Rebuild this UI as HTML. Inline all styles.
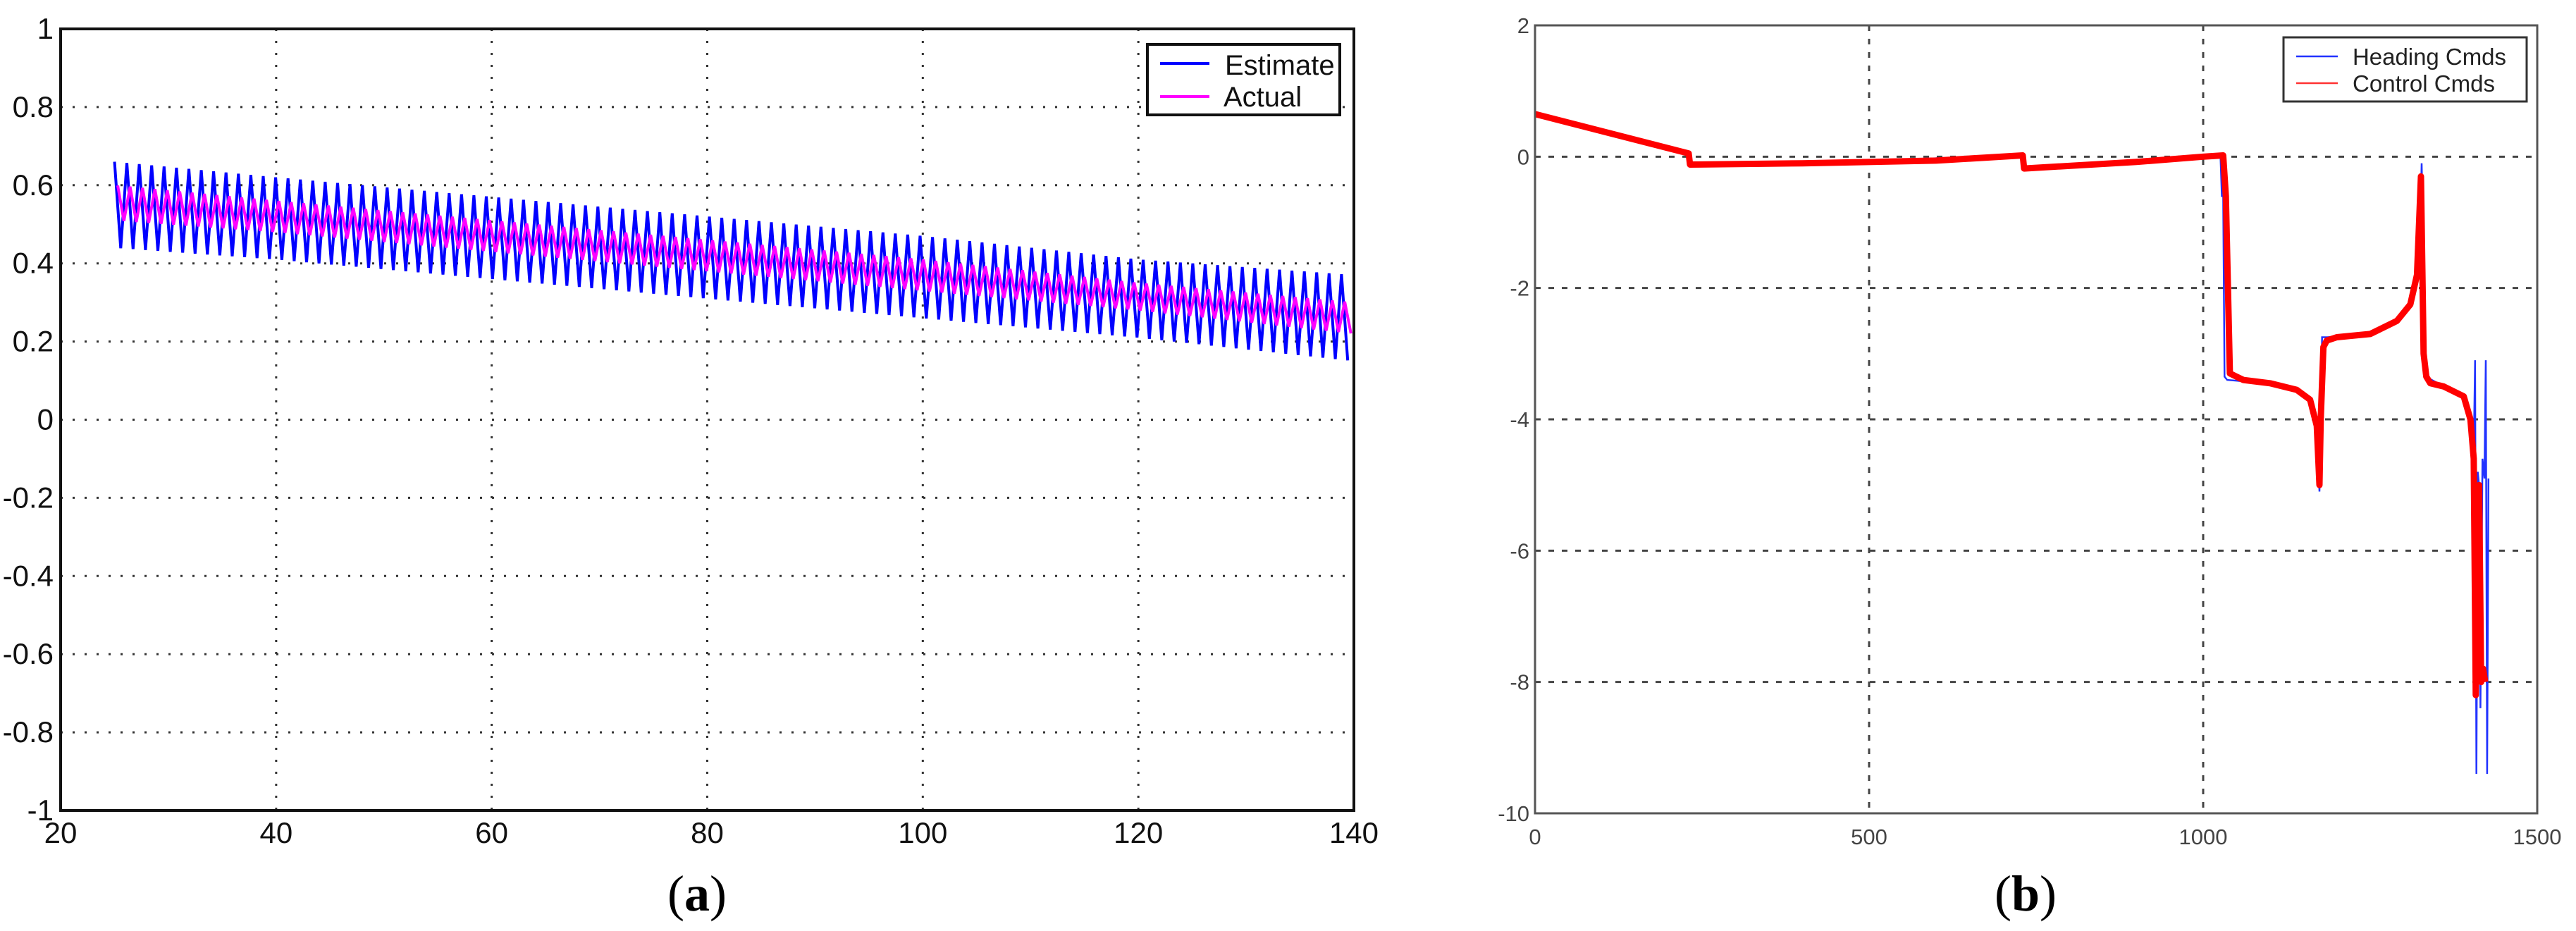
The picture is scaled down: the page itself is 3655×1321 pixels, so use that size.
<!DOCTYPE html>
<html><head><meta charset="utf-8"><style>
body{margin:0;background:#fff}
svg{display:block}
</style></head><body>
<svg id="fig" width="3655" height="1321" viewBox="0 0 3655 1321" xmlns="http://www.w3.org/2000/svg">
<g id="chartA"></g>
<g id="chartB"></g>
<text x="989" y="1292" font-family="Liberation Serif, serif" font-size="72" text-anchor="middle">(<tspan font-weight="bold">a</tspan>)</text>
<text x="2874" y="1292" font-family="Liberation Serif, serif" font-size="72" text-anchor="middle">(<tspan font-weight="bold">b</tspan>)</text>
</svg>
<script>
// ---- Chart A data ----
const aXTicks=[20,40,60,80,100,120,140];
const aYTicks=[1,0.8,0.6,0.4,0.2,0,-0.2,-0.4,-0.6,-0.8,-1];
const aYTickLabels=["1","0.8","0.6","0.4","0.2","0","-0.2","-0.4","-0.6","-0.8","-1"];
const aEnvX=[25,40,60,80,100,120,140];
const aEstUpper=[0.66,0.62,0.57,0.52,0.47,0.41,0.37];
const aEstLower=[0.44,0.41,0.36,0.31,0.26,0.21,0.15];
const aActUpper=[0.60,0.56,0.51,0.46,0.41,0.35,0.30];
const aActLower=[0.51,0.48,0.43,0.38,0.33,0.28,0.22];
const aPeriod=1.15;
// ---- Chart B data ----
const bXTicks=[0,500,1000,1500];
const bYTicks=[2,0,-2,-4,-6,-8,-10];
const bCtrlX=[0,230,232,400,600,730,732,900,1000,1030,1034,1040,1060,1100,1140,1160,1170,1174,1176,1180,1185,1200,1250,1290,1310,1320,1326,1330,1334,1340,1360,1390,1400,1405,1408,1410,1413,1416,1419,1422];
const bCtrlY=[0.65,0.05,-0.12,-0.1,-0.06,0.02,-0.18,-0.08,0,0.02,-0.6,-3.3,-3.4,-3.45,-3.55,-3.7,-4.1,-5.0,-4.0,-2.9,-2.8,-2.75,-2.7,-2.5,-2.25,-1.8,-0.3,-3.0,-3.35,-3.45,-3.5,-3.65,-4.0,-4.6,-8.2,-6.5,-5.0,-8.0,-7.8,-8.0];
const bHeadX=[0,230,232,730,732,1000,1026,1028,1030,1032,1036,1060,1100,1140,1160,1170,1172,1174,1176,1178,1185,1250,1290,1310,1320,1325,1327,1329,1331,1333,1360,1390,1400,1405,1407,1409,1411,1413,1415,1418,1421,1423,1425,1427];
const bHeadY=[0.65,0.05,-0.15,0.02,-0.2,0,0.0,-0.6,-0.6,-3.35,-3.4,-3.42,-3.45,-3.55,-3.7,-4.1,-4.6,-5.1,-4.2,-2.75,-2.75,-2.7,-2.5,-2.25,-1.8,-1.0,-0.1,-1.0,-3.3,-3.35,-3.5,-3.65,-4.0,-4.5,-3.1,-9.4,-4.8,-5.0,-8.4,-4.6,-4.9,-3.1,-9.4,-4.9];

const NS="http://www.w3.org/2000/svg";
function mk(parent,tag,attrs){const e=document.createElementNS(NS,tag);for(const k in attrs)e.setAttribute(k,attrs[k]);parent.appendChild(e);return e;}
function lerp(xs,ys,x){for(let i=0;i<xs.length-1;i++){if(x<=xs[i+1]){const t=(x-xs[i])/(xs[i+1]-xs[i]);return ys[i]+t*(ys[i+1]-ys[i]);}}return ys[ys.length-1];}

// ---- Chart A ----
(function(){
const g=document.getElementById('chartA');
const L=86,R=1921,T=41,B=1150;
const xs=v=>L+(v-20)/120*(R-L);
const ys=v=>T+(1-v)/2*(B-T);
aXTicks.forEach((v,i)=>{
  if(i>0&&i<aXTicks.length-1){const l=mk(g,'line',{x1:xs(v),x2:xs(v),y1:T,y2:B,stroke:'#333','stroke-width':3,'stroke-dasharray':'3 14'});
  
  }
  const t=mk(g,'text',{x:xs(v),y:1196,'font-family':'Liberation Sans, sans-serif','font-size':42,'text-anchor':'middle',fill:'#111'});t.textContent=v;
  
  
});
aYTicks.forEach((v,i)=>{
  if(i>0&&i<aYTicks.length-1){const l=mk(g,'line',{x1:L,x2:R,y1:ys(v),y2:ys(v),stroke:'#333','stroke-width':3,'stroke-dasharray':'3 14'});
  
  }
  const t=mk(g,'text',{x:76,y:ys(v)+14,'font-family':'Liberation Sans, sans-serif','font-size':42,'text-anchor':'end',fill:'#111'});t.textContent=aYTickLabels[i];
  
  
});
let d='';let k=0;
for(let x=25;x<=140;x+=aPeriod/2,k++){const v=(k%2==0)?lerp(aEnvX,aEstUpper,x):lerp(aEnvX,aEstLower,x);d+=(k?'L':'M')+xs(x).toFixed(1)+','+ys(v).toFixed(1);}
const pe=mk(g,'path',{d:d,fill:'none',stroke:'#0000ff','stroke-width':4});


d='';k=0;
for(let x=25.3;x<=140;x+=aPeriod/2,k++){const v=(k%2==0)?lerp(aEnvX,aActUpper,x):lerp(aEnvX,aActLower,x);d+=(k?'L':'M')+xs(x).toFixed(1)+','+ys(v).toFixed(1);}
const pa=mk(g,'path',{d:d,fill:'none',stroke:'#ff00ff','stroke-width':4});


const fr=mk(g,'rect',{x:L,y:T,width:R-L,height:B-T,fill:'none',stroke:'#111','stroke-width':4});


const lg=mk(g,'g',{});


mk(lg,'rect',{x:1628,y:63,width:273,height:100,fill:'#fff',stroke:'#111','stroke-width':4});
mk(lg,'line',{x1:1646,x2:1716,y1:90,y2:90,stroke:'#0000ff','stroke-width':4});
mk(lg,'line',{x1:1646,x2:1716,y1:137,y2:137,stroke:'#ff00ff','stroke-width':4});
const t1=mk(lg,'text',{x:1738,y:106,'font-family':'Liberation Sans, sans-serif','font-size':40,fill:'#111'});t1.textContent='Estimate';
const t2=mk(lg,'text',{x:1736,y:151,'font-family':'Liberation Sans, sans-serif','font-size':40,fill:'#111'});t2.textContent='Actual';
})();

// ---- Chart B ----
(function(){
const g=document.getElementById('chartB');
const L=2178,R=3600,T=36,B=1154;
const xs=v=>L+v/1500*(R-L);
const ys=v=>T+(2-v)/12*(B-T);
bXTicks.forEach((v,i)=>{
  if(i>0&&i<bXTicks.length-1){const l=mk(g,'line',{x1:xs(v),x2:xs(v),y1:T,y2:B,stroke:'#444','stroke-width':3,'stroke-dasharray':'8 11'});
  
  }
  const t=mk(g,'text',{x:xs(v),y:1198,'font-family':'Liberation Sans, sans-serif','font-size':31,'text-anchor':'middle',fill:'#444'});t.textContent=v;
  
  
});
bYTicks.forEach((v,i)=>{
  if(i>0&&i<bYTicks.length-1){const l=mk(g,'line',{x1:L,x2:R,y1:ys(v),y2:ys(v),stroke:'#444','stroke-width':3,'stroke-dasharray':'8 11'});
  
  }
  const t=mk(g,'text',{x:2170,y:ys(v)+11,'font-family':'Liberation Sans, sans-serif','font-size':31,'text-anchor':'end',fill:'#444'});t.textContent=v;
  
  
});
let d='';
bHeadX.forEach((x,i)=>{d+=(i?'L':'M')+xs(x).toFixed(1)+','+ys(bHeadY[i]).toFixed(1);});
const ph=mk(g,'path',{d:d,fill:'none',stroke:'#2233ff','stroke-width':2.5});


d='';
bCtrlX.forEach((x,i)=>{d+=(i?'L':'M')+xs(x).toFixed(1)+','+ys(bCtrlY[i]).toFixed(1);});
const pc=mk(g,'path',{d:d,fill:'none',stroke:'#ff0000','stroke-width':9,'stroke-linejoin':'round'});


const fr=mk(g,'rect',{x:L,y:T,width:R-L,height:B-T,fill:'none',stroke:'#555','stroke-width':3});


const lg=mk(g,'g',{});


mk(lg,'rect',{x:3240,y:53,width:345,height:91,fill:'#fff',stroke:'#333','stroke-width':3});
mk(lg,'line',{x1:3258,x2:3317,y1:80,y2:80,stroke:'#2233ff','stroke-width':2.5});
mk(lg,'line',{x1:3258,x2:3317,y1:118,y2:118,stroke:'#ff3333','stroke-width':2.5});
const t1=mk(lg,'text',{x:3338,y:92,'font-family':'Liberation Sans, sans-serif','font-size':33,fill:'#222',textLength:218});t1.textContent='Heading Cmds';
const t2=mk(lg,'text',{x:3338,y:130,'font-family':'Liberation Sans, sans-serif','font-size':33,fill:'#222',textLength:202});t2.textContent='Control Cmds';
})();
</script>
</body></html>
